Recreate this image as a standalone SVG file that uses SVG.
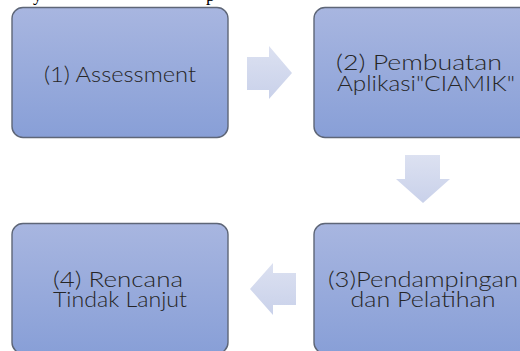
<svg xmlns="http://www.w3.org/2000/svg" width="520" height="351" viewBox="0 0 520 351">
<defs>
<linearGradient id="boxFill" x1="0" y1="0" x2="0" y2="1">
<stop offset="0" stop-color="#a8b6e0"/>
<stop offset="1" stop-color="#889fd7"/>
</linearGradient>
<linearGradient id="arrowFill" x1="0" y1="0" x2="0" y2="1">
<stop offset="0" stop-color="#dce1f1"/>
<stop offset="1" stop-color="#c9d1ea"/>
</linearGradient>
<style>
.box{fill:url(#boxFill);stroke:#5e6677;stroke-width:1.4}
.lbl{font-family:Lato,"DejaVu Sans",sans-serif;font-weight:300;font-size:22px;fill:#262626;text-anchor:middle}
.arrow{fill:url(#arrowFill)}
.doc{font-family:"Liberation Serif",serif;font-size:18px;fill:#000}
</style>
</defs>
<rect width="520" height="351" fill="#fff"/>
<text class="doc" x="33" y="1">y</text>
<text class="doc" x="206" y="1">p</text>
<g id="connectors">
<polygon class="arrow" points="247,57 269,57 269,46 292,73 269,99 269,90 247,90"/>
<polygon class="arrow" points="405,155 440,155 440,179 450,179 423,203 396,179 405,179"/>
<polygon class="arrow" points="296,273 273,273 273,263 250,289 273,315 273,305 296,305"/>
</g>
<g id="node1">
<rect class="box" x="12" y="7.5" width="216" height="130" rx="11"/>
<text class="lbl" x="120" y="82" textLength="152" lengthAdjust="spacingAndGlyphs">(1) Assessment</text>
</g>
<g id="node2">
<rect class="box" x="314" y="7.5" width="216" height="130" rx="11"/>
<text class="lbl" x="419" y="70" textLength="166" lengthAdjust="spacingAndGlyphs">(2) Pembuatan</text>
<text class="lbl" x="426" y="91" textLength="178" lengthAdjust="spacingAndGlyphs">Aplikasi"CIAMIK"</text>
</g>
<g id="node3">
<rect class="box" x="314" y="223.5" width="216" height="130" rx="11"/>
<text class="lbl" x="423" y="287" textLength="190" lengthAdjust="spacingAndGlyphs">(3)Pendampingan</text>
<text class="lbl" x="423" y="307" textLength="145" lengthAdjust="spacingAndGlyphs">dan Pelatihan</text>
</g>
<g id="node4">
<rect class="box" x="12" y="223.5" width="216" height="130" rx="11"/>
<text class="lbl" x="118" y="287" textLength="130" lengthAdjust="spacingAndGlyphs">(4) Rencana</text>
<text class="lbl" x="120" y="307" textLength="134" lengthAdjust="spacingAndGlyphs">Tindak Lanjut</text>
</g>
</svg>
